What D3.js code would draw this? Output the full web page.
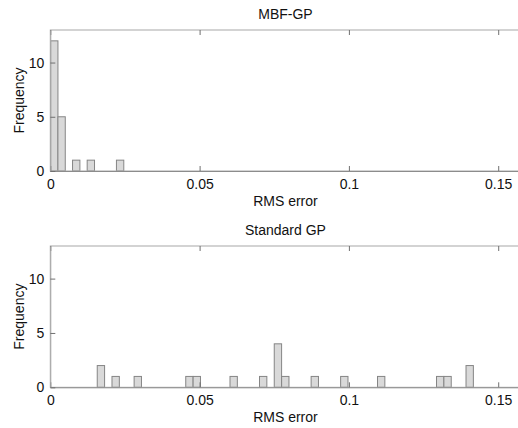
<!DOCTYPE html>
<html>
<head>
<meta charset="utf-8">
<script src="https://cdn.jsdelivr.net/npm/d3@7"></script>
<style>
html,body{margin:0;padding:0;background:#fff;}
svg{display:block;font-family:"Liberation Sans",Arial,sans-serif;}
</style>
</head>
<body>
<svg id="chart" width="518" height="428"></svg>
<script>
// ---- data ----
const binWidth = 0.00246;
const topTitle = "MBF-GP";
const topBinStarts = [0.0001, 0.00255, 0.00745, 0.01235, 0.02215];
const topCounts = [12, 5, 1, 1, 1];
const bottomTitle = "Standard GP";
const bottomBinStarts = [0.01572, 0.02066, 0.02807, 0.04536, 0.04783, 0.06018, 0.07006, 0.0750, 0.07747, 0.08735, 0.09723, 0.10958, 0.12934, 0.13181, 0.13922];
const bottomCounts = [2, 1, 1, 1, 1, 1, 1, 4, 1, 1, 1, 1, 1, 1, 2];
const xTicks = [0, 0.05, 0.1, 0.15];
const xTickLabels = ["0", "0.05", "0.1", "0.15"];
const yTicks = [0, 5, 10];
const yTickLabels = ["0", "5", "10"];
const xDomain = [0, 0.1575];
const yDomain = [0, 13];
const xLabel = "RMS error";
const yLabel = "Frequency";

const svg = d3.select("#chart");
const left = 50.3, right = 520.6;

function panel(top, bottom, title, starts, counts) {
  const x = d3.scaleLinear().domain(xDomain).range([left, right]);
  const y = d3.scaleLinear().domain(yDomain).range([bottom, top]);
  const g = svg.append("g");

  // bars
  g.selectAll("rect.bar").data(starts.map((s, i) => ({s, c: counts[i]})))
    .enter().append("rect").attr("class", "bar")
    .attr("x", d => x(d.s))
    .attr("y", d => y(d.c))
    .attr("width", d => x(d.s + binWidth) - x(d.s))
    .attr("height", d => y(0) - y(d.c))
    .attr("fill", "#d9d9d9")
    .attr("stroke", "#858585")
    .attr("stroke-width", 1);

  // frame
  g.append("rect").attr("x", left).attr("y", top)
    .attr("width", right - left).attr("height", bottom - top)
    .attr("fill", "none").attr("stroke", "#a8a8a8").attr("stroke-width", 1);

  // bottom axis
  const xAxis = d3.axisBottom(x).tickValues(xTicks)
    .tickFormat((d, i) => xTickLabels[i]).tickSizeInner(-5).tickSizeOuter(0).tickPadding(8);
  const xa = g.append("g").attr("transform", `translate(0,${bottom})`).call(xAxis);
  xa.select(".domain").attr("stroke", "#8c8c8c");
  xa.selectAll(".tick line").attr("stroke", "#707070");
  xa.selectAll("text").attr("font-size", 14).attr("fill", "#111").attr("font-family", "Liberation Sans, Arial, sans-serif");

  // top ticks
  const xTop = d3.axisTop(x).tickValues(xTicks).tickFormat("").tickSizeInner(-5).tickSizeOuter(0);
  const xt = g.append("g").attr("transform", `translate(0,${top})`).call(xTop);
  xt.select(".domain").remove();
  xt.selectAll(".tick line").attr("stroke", "#707070");

  // left axis
  const yAxis = d3.axisLeft(y).tickValues(yTicks)
    .tickFormat((d, i) => yTickLabels[i]).tickSizeInner(-5).tickSizeOuter(0).tickPadding(6);
  const ya = g.append("g").attr("transform", `translate(${left},0)`).call(yAxis);
  ya.select(".domain").attr("stroke", "#a8a8a8");
  ya.selectAll(".tick line").attr("stroke", "#707070");
  ya.selectAll("text").attr("font-size", 14).attr("fill", "#111").attr("font-family", "Liberation Sans, Arial, sans-serif");

  // title
  g.append("text").attr("x", (left + right) / 2).attr("y", top - 11)
    .attr("text-anchor", "middle").attr("font-size", 14).attr("fill", "#111").text(title);
  // x label
  g.append("text").attr("x", (left + right) / 2).attr("y", bottom + 35)
    .attr("text-anchor", "middle").attr("font-size", 14).attr("fill", "#111").text(xLabel);
  // y label
  g.append("text").attr("transform", `translate(24,${(top + bottom) / 2}) rotate(-90)`)
    .attr("text-anchor", "middle").attr("font-size", 14).attr("fill", "#111").text(yLabel);
}

panel(30, 171, topTitle, topBinStarts, topCounts);
panel(246, 387.3, bottomTitle, bottomBinStarts, bottomCounts);
</script>
</body>
</html>
